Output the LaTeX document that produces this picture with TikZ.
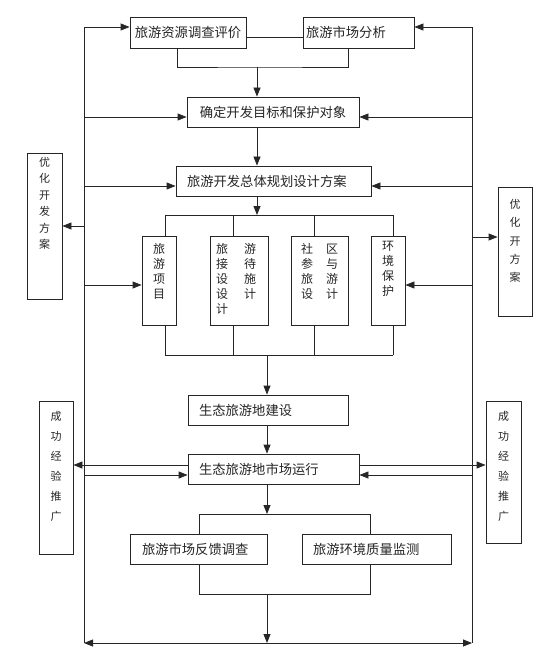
\documentclass[tikz,border=0pt]{standalone}
\usepackage{fontspec}
\newfontfamily\cjk{Noto Sans CJK SC}
\usetikzlibrary{arrows.meta}
\begin{document}
\begin{tikzpicture}[x=1pt,y=-1pt,
  ln/.style={draw=black!85, line width=0.8pt},
  arr/.style={ln, -{Triangle[length=9pt,width=7pt]}},
  hbox/.style={ln, font=\cjk\fontsize{13.3}{16}\selectfont, text=black!85,
    minimum height=30pt, inner ysep=0pt, inner xsep=0pt},
  vbox/.style={ln, inner sep=0pt},
  vt/.style={inner sep=0pt, anchor=north, text=black!85, align=center}]
\fill[white] (0,0) rectangle (557,671);
\useasboundingbox (0,0) rectangle (557,671);

% horizontal boxes
\node[hbox, minimum width=116pt, minimum height=31pt] (r1) at (188,32.5) {旅游资源调查评价};
\node[hbox, minimum height=31pt, text width=105pt, inner xsep=3pt, align=left] (r2) at (358.5,32.5) {旅游市场分析};
\node[hbox, minimum width=172pt] (r3) at (273,112) {确定开发目标和保护对象};
\node[hbox, text width=173pt, inner xsep=11pt, align=left] (r4) at (273.5,181) {旅游开发总体规划设计方案};
\node[hbox, text width=138pt, inner xsep=11pt, align=left] (b1) at (268,410) {生态旅游地建设};
\node[hbox, text width=149pt, inner xsep=11pt, align=left] (b2) at (273.5,469) {生态旅游地市场运行};
\node[hbox, text width=113pt, inner xsep=12pt, align=left] (b3) at (198.5,549) {旅游市场反馈调查};
\node[hbox, text width=127pt, inner xsep=11pt, align=left] (b4) at (376.5,549) {旅游环境质量监测};

% vertical boxes
\node[vbox, minimum width=34pt, minimum height=89pt] (p1) at (159,280.5) {};
\node[vt, font=\cjk\fontsize{12}{15}\selectfont] (p1t) at (159,243) {旅\\游\\项\\目};
\node[vbox, minimum width=58pt, minimum height=89pt] (p2) at (239,280.5) {};
\node[vt, font=\cjk\fontsize{12}{15}\selectfont] (p2t) at (236,243)
  {\begin{tabular}{@{}c@{\hspace{16pt}}c@{}}旅&游\\接&待\\设&施\\设&计\\计&\end{tabular}};
\node[vbox, minimum width=57pt, minimum height=89pt] (p3) at (319.5,280.5) {};
\node[vt, font=\cjk\fontsize{12}{15}\selectfont] (p3t) at (319.5,243)
  {\begin{tabular}{@{}c@{\hspace{13pt}}c@{}}社&区\\参&与\\旅&游\\设&计\end{tabular}};
\node[vbox, minimum width=34pt, minimum height=89pt] (p4) at (388,280.5) {};
\node[vt, font=\cjk\fontsize{12}{15}\selectfont] (p4t) at (388,241) {环\\境\\保\\护};

% side boxes
\node[vbox, minimum width=35pt, minimum height=146pt] (s1) at (44.5,226) {};
\node[vt, font=\cjk\fontsize{11}{16.5}\selectfont] (s1t) at (44.5,157) {优\\化\\开\\发\\方\\案};
\node[vbox, minimum width=34pt, minimum height=129pt] (s2) at (515,251.5) {};
\node[vt, font=\cjk\fontsize{11}{18.3}\selectfont] (s2t) at (515,199) {优\\化\\开\\方\\案};
\node[vbox, minimum width=34pt, minimum height=153pt] (s3) at (56,477.5) {};
\node[vt, font=\cjk\fontsize{11}{20}\selectfont] (s3t) at (56,411) {成\\功\\经\\验\\推\\广};
\node[vbox, minimum width=35pt, minimum height=142pt] (s4) at (503.5,472) {};
\node[vt, font=\cjk\fontsize{11}{20}\selectfont] (s4t) at (503.5,411) {成\\功\\经\\验\\推\\广};

% coordinates
\coordinate (Ltop) at (84,27);
\coordinate (Lbot) at (84,643);
\coordinate (Rtop) at (472,27);
\coordinate (Rbot) at (472,643);
\coordinate (mid) at (267,643);
\coordinate (j1) at (257,67);
\coordinate (j2) at (257,215);
\coordinate (j3) at (267,355);
\coordinate (t1) at (165,215);
\coordinate (t2) at (233,215);
\coordinate (t3) at (314,215);
\coordinate (t4) at (393,215);
\coordinate (u1) at (165,355);
\coordinate (u2) at (233,355);
\coordinate (u3) at (314,355);
\coordinate (u4) at (393,355);
\coordinate (f1) at (199,514);
\coordinate (f2) at (370,594);

% outer loop
\draw[ln] (Ltop) -- (Lbot);
\draw[ln] (Rtop) -- (Rbot);
\draw[arr] (mid) -- (Lbot);
\draw[arr] (mid) -- (Rbot);
\draw[arr] (Ltop) -- (Ltop -| r1.west);
\draw[arr] (Rtop) -- (Rtop -| r2.east);

% top part
\draw[ln] ([yshift=-4.5pt]r1.east) -- ([yshift=-4.5pt]r1.east -| r2.west);
\draw[ln] ([xshift=-11pt]r1.south) |- (j1) -| ([xshift=-10.5pt]r2.south);
\draw[arr] (j1) -- (r3.north -| j1);
\draw[arr] ([yshift=-5pt]r3.west -| Ltop) -- ([yshift=-5pt]r3.west);
\draw[arr] ([yshift=-5pt]r3.east -| Rtop) -- ([yshift=-5pt]r3.east);
\draw[arr] (r3.south -| j1) -- (r4.north -| j1);
\draw[arr] ([yshift=-5pt]r4.west -| Ltop) -- ([yshift=-5pt]r4.west);
\draw[arr] ([yshift=-5pt]r4.east -| Rtop) -- ([yshift=-5pt]r4.east);
\draw[arr] (s1.east -| Ltop) -- (s1.east);
\draw[arr] ([yshift=14.5pt]s2.west -| Rtop) -- ([yshift=14.5pt]s2.west);

% project boxes
\draw[arr] (r4.south -| j2) -- (j2);
\draw[ln] (t1) -- (t4);
\draw[ln] (t1) -- (t1 |- p1.north);
\draw[ln] (t2) -- (t2 |- p2.north);
\draw[ln] (t3) -- (t3 |- p3.north);
\draw[ln] (t4) -- (t4 |- p4.north);
\draw[ln] (u1) -- (u4);
\draw[ln] (u1 |- p1.south) -- (u1);
\draw[ln] (u2 |- p2.south) -- (u2);
\draw[ln] (u3 |- p3.south) -- (u3);
\draw[ln] (u4 |- p4.south) -- (u4);
\draw[arr] ([yshift=-4.5pt]p1.west -| Ltop) -- ([yshift=-4.5pt]p1.west);
\draw[arr] ([yshift=-4.5pt]p4.east -| Rtop) -- ([yshift=-4.5pt]p4.east);

% lower part
\draw[arr] (j3) -- (b1.north -| j3);
\draw[arr] (b1.south -| j3) -- (b2.north -| j3);
\draw[arr] ([yshift=4pt]b2.west) -- ([yshift=4pt]b2.west -| s3.east);
\draw[arr] ([yshift=-6pt]b2.west -| Ltop) -- ([yshift=-6pt]b2.west);
\draw[arr] ([yshift=4pt]b2.east) -- ([yshift=4pt]b2.east -| s4.west);
\draw[arr] ([yshift=-6pt]b2.east -| Rtop) -- ([yshift=-6pt]b2.east);
\draw[arr] (b2.south -| j3) -- (f1 -| j3);
\draw[ln] (b3.north -| f1) -- (f1) -- (f1 -| f2) -- (b4.north -| f2);
\draw[ln] (b3.south -| f1) -- (f2 -| f1) -- (f2) -- (b4.south -| f2);
\draw[arr] (f2 -| j3) -- (mid);
\end{tikzpicture}
\end{document}
